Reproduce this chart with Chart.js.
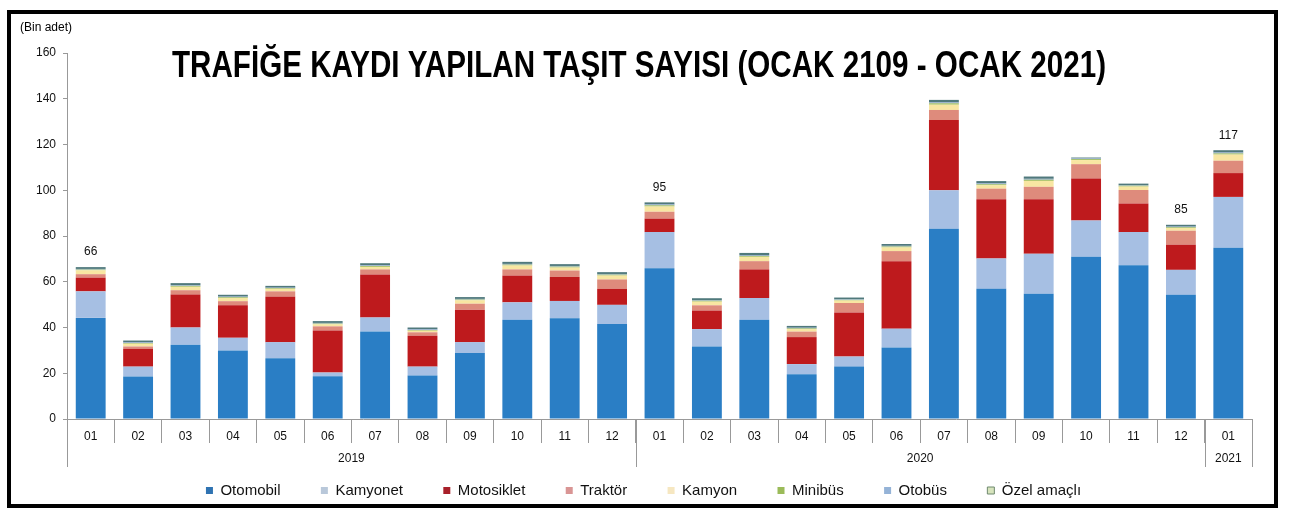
<!DOCTYPE html>
<html><head><meta charset="utf-8">
<script src="https://cdn.jsdelivr.net/npm/chart.js@4.4.1/dist/chart.umd.min.js"></script>
<style>
html,body{margin:0;padding:0;background:#fff;width:1289px;height:517px;overflow:hidden;}
#wrap{position:absolute;left:11px;top:14px;width:1258px;height:494px;}
#frame{position:absolute;left:7px;top:10px;width:1263px;height:490px;border:4px solid #000;pointer-events:none;}
</style></head><body>
<div id="wrap"><canvas id="c"></canvas></div>
<div id="frame"></div>
<script>
const categories = ["01","02","03","04","05","06","07","08","09","10","11","12",
                    "01","02","03","04","05","06","07","08","09","10","11","12","01"];
const years = ["2019","2020","2021"];
const yearCounts = [12,12,1];
const totalLabels = ["66","","","","","","","","","","","","95","","","","","","","","","","","85","117"];
const chartTitle = "TRAFİĞE KAYDI YAPILAN TAŞIT SAYISI (OCAK 2109 - OCAK 2021)";
const unitLabel = "(Bin adet)";
const seriesNames = ["Otomobil","Kamyonet","Motosiklet","Traktör","Kamyon","Minibüs","Otobüs","Özel amaçlı"];

const otomobil   = [44.2,18.6,32.5,30.0,26.6,18.7,38.3,19.0,28.8,43.4,44.0,41.5, 65.9,31.7,43.4,19.6,22.9,31.3,83.2,56.9,54.8,70.9,67.2,54.3, 74.9];
const kamyonet   = [11.6,4.3,7.5,5.5,7.0,1.6,6.1,3.9,4.8,7.6,7.6,8.4, 15.8,7.6,9.5,4.4,4.4,8.2,16.8,13.3,17.4,15.9,14.5,10.9, 22.2];
const motosiklet = [6.0,7.8,14.4,14.2,19.8,18.4,18.8,13.5,14.2,11.7,10.5,7.0, 5.9,8.1,12.5,11.8,19.3,29.5,30.7,25.9,23.9,18.3,12.5,11.0, 10.4];
const traktor    = [1.5,1.0,1.9,1.8,2.4,1.8,2.2,1.5,2.6,2.7,2.8,4.1, 3.0,2.3,3.6,2.4,4.1,4.4,4.4,4.6,5.4,6.3,5.9,6.1, 5.4];
const kamyon     = [1.7,1.2,1.5,1.4,1.1,0.9,1.1,0.7,1.5,1.7,1.3,1.7, 2.3,1.6,1.9,1.1,1.1,1.6,2.3,1.5,2.6,1.8,1.5,1.2, 2.7];
const minibus    = [0.3,0.3,0.4,0.3,0.3,0.3,0.4,0.3,0.3,0.4,0.4,0.4, 0.5,0.4,0.4,0.3,0.3,0.4,0.6,0.4,0.5,0.4,0.4,0.3, 0.5];
const otobus     = [0.3,0.3,0.3,0.3,0.2,0.3,0.3,0.3,0.3,0.3,0.3,0.3, 0.4,0.3,0.4,0.3,0.3,0.3,0.4,0.4,0.4,0.3,0.3,0.3, 0.4];
const ozel       = [0.8,0.8,0.9,0.8,0.8,0.8,0.9,0.8,0.8,0.9,0.8,0.8, 0.9,0.8,0.9,0.8,0.7,0.8,1.1,1.0,1.0,0.4,0.6,0.8, 1.0];

const seriesValues = [otomobil,kamyonet,motosiklet,traktor,kamyon,minibus,otobus,ozel];
const seriesColors = ["#2A7EC5","#A6BFE3","#BE1A1D","#DE8B7C","#F8E6A2","#9BBB59","#8EAACF","#50797C"];
const legendColors = ["#2F73B2","#B9C8DA","#A8202A","#D99594","#F6E7C1","#9BBB59","#95B3D7","#D7E4BD"];

const FONT = 'Arial, "Liberation Sans", sans-serif';

const deco = {
  id: 'deco',
  afterDraw(chart) {
    const ctx = chart.ctx;
    const xs = chart.scales.x, ys = chart.scales.y;
    const area = chart.chartArea;
    ctx.save();
    ctx.fillStyle = '#000';
    ctx.font = '12px ' + FONT;
    ctx.textAlign = 'left';
    ctx.textBaseline = 'alphabetic';
    ctx.fillText(unitLabel, 9, 17);
    ctx.font = 'bold 36px "Liberation Sans Narrow", "Arial Narrow", "Liberation Sans", Arial, sans-serif';
    const w = ctx.measureText(chartTitle).width;
    const sx = 934 / w;
    ctx.save();
    ctx.translate(628, 63);
    ctx.scale(sx, 1);
    ctx.textAlign = 'center';
    ctx.fillText(chartTitle, 0, 0);
    ctx.restore();
    const n = categories.length;
    const cw = (area.right - area.left) / n;
    ctx.strokeStyle = '#999';
    ctx.lineWidth = 1;
    let start = 0;
    const bounds = [0];
    yearCounts.forEach(c => { start += c; bounds.push(start); });
    bounds.forEach(b => {
      const px = Math.round(area.left + b * cw) + 0.5;
      ctx.beginPath();
      ctx.moveTo(px, area.bottom);
      ctx.lineTo(px, area.bottom + 48);
      ctx.stroke();
    });
    ctx.fillStyle = '#111';
    ctx.font = '12px ' + FONT;
    ctx.textAlign = 'center';
    ctx.textBaseline = 'middle';
    years.forEach((y, i) => {
      const cx = area.left + (bounds[i] + bounds[i + 1]) / 2 * cw;
      ctx.fillText(y, cx, area.bottom + 40);
    });
    totalLabels.forEach((t, i) => {
      if (!t) return;
      let sum = 0;
      seriesValues.forEach(s => sum += s[i]);
      ctx.fillText(t, xs.getPixelForValue(i), ys.getPixelForValue(sum) - 15);
    });
    ctx.restore();
  }
};

new Chart(document.getElementById('c'), {
  type: 'bar',
  data: {
    labels: categories,
    datasets: seriesNames.map((name, i) => ({
      label: name,
      data: seriesValues[i],
      backgroundColor: seriesColors[i],
      borderWidth: 0,
      barPercentage: 0.63,
      categoryPercentage: 1.0
    }))
  },
  options: {
    responsive: true,
    maintainAspectRatio: false,
    animation: false,
    devicePixelRatio: 1,
    layout: { padding: { top: 39, left: 24, right: 17, bottom: 0 } },
    plugins: {
      title: { display: false },
      tooltip: { enabled: false },
      legend: {
        position: 'bottom',
        align: 'center',
        labels: {
          boxWidth: 7, boxHeight: 7, padding: 40.4,
          color: '#111',
          font: { family: FONT, size: 15 },
          generateLabels(chart) {
            const items = Chart.defaults.plugins.legend.labels.generateLabels(chart);
            items.forEach((it, i) => {
              it.fillStyle = legendColors[i];
              it.lineWidth = 0;
              it.strokeStyle = legendColors[i];
              if (i === 7) { it.lineWidth = 1; it.strokeStyle = '#6F8A6F'; }
            });
            return items;
          }
        }
      }
    },
    scales: {
      x: {
        stacked: true,
        offset: true,
        grid: { offset: true, drawOnChartArea: false, drawTicks: true, tickLength: 24, color: '#999' },
        border: { color: '#999' },
        ticks: { color: '#111', font: { family: FONT, size: 12 }, padding: -14, maxRotation: 0, autoSkip: false },
        afterFit(s) { s.height = 23.6; }
      },
      y: {
        stacked: true,
        min: 0, max: 160,
        grid: { drawOnChartArea: false, drawTicks: true, tickLength: 4, color: '#999' },
        border: { color: '#999' },
        ticks: { stepSize: 20, color: '#111', font: { family: FONT, size: 12 }, padding: 7 },
        afterFit(s) { s.width = 32; }
      }
    }
  },
  plugins: [deco]
});
</script>
</body></html>
